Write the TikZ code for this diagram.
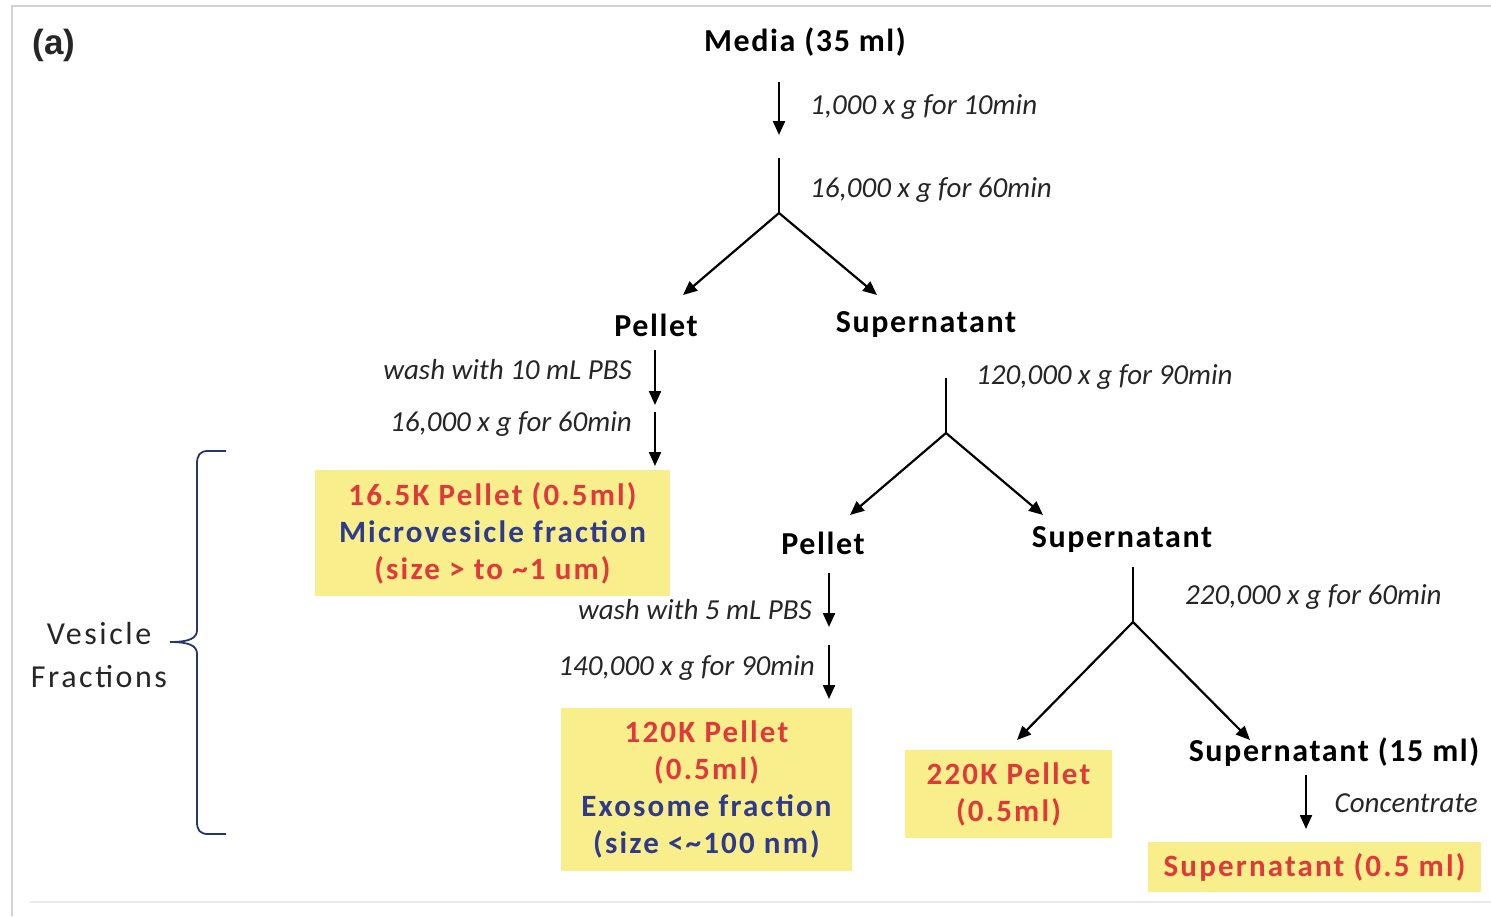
\documentclass[tikz,border=0pt]{standalone}
\usepackage{fontspec}
\setmainfont{Carlito}
\newfontfamily\panelfont{Liberation Sans}
\newfontfamily\stagefont[LetterSpace=5]{Carlito}
\newfontfamily\boxfont[LetterSpace=7]{Carlito}
\newfontfamily\sidefont[LetterSpace=8]{Carlito}
\usetikzlibrary{arrows.meta}
\definecolor{boxyellow}{HTML}{F8EF8C}
\definecolor{pelletred}{HTML}{E0393B}
\definecolor{fracblue}{HTML}{2F3A8C}
\definecolor{bracenavy}{HTML}{2B3568}
\definecolor{framegray}{HTML}{D2D2D2}

\begin{document}
\begin{tikzpicture}[x=1pt, y=-1pt,
  every node/.style={inner sep=0pt},
  stage/.style={font=\stagefont\fontsize{32}{37}\selectfont\bfseries},
  spin/.style={font=\fontsize{29}{35}\selectfont\itshape, text=black!85},
  fraction/.style={fill=boxyellow, font=\boxfont\fontsize{31}{37}\selectfont\bfseries, align=center},
  flow/.style={line width=2.2pt, -{Triangle[length=14pt,width=12pt]}},
  stem/.style={line width=2.2pt}]
\useasboundingbox (0,0) rectangle (1491,916);
% frame of the panel
\draw[framegray, line width=2pt] (12,916) -- (12,6) -- (1491,6);
\draw[framegray!45, line width=1.5pt] (30,902) -- (1491,902);
\node[font=\panelfont\fontsize{35}{40}\selectfont\bfseries, text=black!85] (panel) at (54,45) {(a)};

% first spin
\node[stage] (media) at (805,42) {Media (35 ml)};
\coordinate (m1) at (779,82);
\coordinate (m2) at (779,135);
\draw[flow] (m1) -- (m2);
\node[spin, anchor=west] (spinA) at (810,107) {1,000 x g for 10min};
\coordinate (m3) at (779,158);
\coordinate (mj) at (779,213);
\coordinate (mL) at (683,295);
\coordinate (mR) at (877,295);
\draw[stem] (m3) -- (mj);
\draw[flow] (mj) -- (mL);
\draw[flow] (mj) -- (mR);
\node[spin, anchor=west] (spinB) at (810,190) {16,000 x g for 60min};
\node[stage] (pelletA) at (656,325) {Pellet};
\node[stage] (superA) at (926,325) {Supernatant};

% microvesicle branch
\coordinate (p1) at (655,350);
\coordinate (p2) at (655,405);
\coordinate (p3) at (655,412);
\coordinate (p4) at (655,466);
\draw[flow] (p1) -- (p2);
\draw[flow] (p3) -- (p4);
\node[spin, anchor=east] (washA) at (632,370) {wash with 10 mL PBS};
\node[spin, anchor=east] (spinC) at (632,424) {16,000 x g for 60min};
\node[fraction, minimum width=355pt, minimum height=126pt] (micro) at (492.5,533)
  {\color{pelletred}16.5K Pellet (0.5ml)\\\color{fracblue}Microvesicle fraction\\\color{pelletred}(size > to \char`~1 um)};

% second spin
\coordinate (s1) at (946,378);
\coordinate (sj) at (946,433);
\coordinate (sL) at (850,515);
\coordinate (sR) at (1043,515);
\draw[stem] (s1) -- (sj);
\draw[flow] (sj) -- (sL);
\draw[flow] (sj) -- (sR);
\node[spin, anchor=west] (spinD) at (976,377) {120,000 x g for 90min};
\node[stage] (pelletB) at (823,543) {Pellet};
\node[stage] (superB) at (1122,540) {Supernatant};

% exosome branch
\coordinate (q1) at (829,573);
\coordinate (q2) at (829,627);
\coordinate (q3) at (829,645);
\coordinate (q4) at (829,699);
\draw[flow] (q1) -- (q2);
\draw[flow] (q3) -- (q4);
\node[spin, anchor=east] (washB) at (812,610) {wash with 5 mL PBS};
\node[spin, anchor=east] (spinE) at (815,668) {140,000 x g for 90min};
\node[fraction, minimum width=291pt, minimum height=163pt] (exo) at (706.5,789.5)
  {\color{pelletred}120K Pellet\\\color{pelletred}(0.5ml)\\\color{fracblue}Exosome fraction\\\color{fracblue}(size <\char`~100 nm)};

% third spin
\coordinate (t1) at (1133,567);
\coordinate (tj) at (1133,622);
\coordinate (tL) at (1017,740);
\coordinate (tR) at (1250,740);
\draw[stem] (t1) -- (tj);
\draw[flow] (tj) -- (tL);
\draw[flow] (tj) -- (tR);
\node[spin, anchor=west] (spinF) at (1185,597) {220,000 x g for 60min};
\node[fraction, minimum width=207pt, minimum height=88pt] (heavy) at (1008.5,794)
  {\color{pelletred}220K Pellet\\\color{pelletred}(0.5ml)};
\node[stage] (superC) at (1334,752) {Supernatant (15 ml)};
\coordinate (c1) at (1306,775);
\coordinate (c2) at (1306,829);
\draw[flow] (c1) -- (c2);
\node[spin, anchor=east] (conc) at (1478,803) {Concentrate};
\node[fraction, minimum width=333pt, minimum height=50pt] (superD) at (1314.5,867)
  {\color{pelletred}Supernatant (0.5 ml)};

% brace over the fractions
\draw[bracenavy, line width=1.8pt] (226,451) -- (208,451)
  .. controls (200,451) and (197,455) .. (197,464) -- (197,630)
  .. controls (197,638) and (190,642) .. (170,642)
  .. controls (190,642) and (197,646) .. (197,654) -- (197,822)
  .. controls (197,830) and (200,834) .. (208,834) -- (226,834);
\node[font=\sidefont\fontsize{32}{43}\selectfont, text=black!85, align=center] (vesicle) at (99,655) {Vesicle\\Fractions};
\end{tikzpicture}
\end{document}
